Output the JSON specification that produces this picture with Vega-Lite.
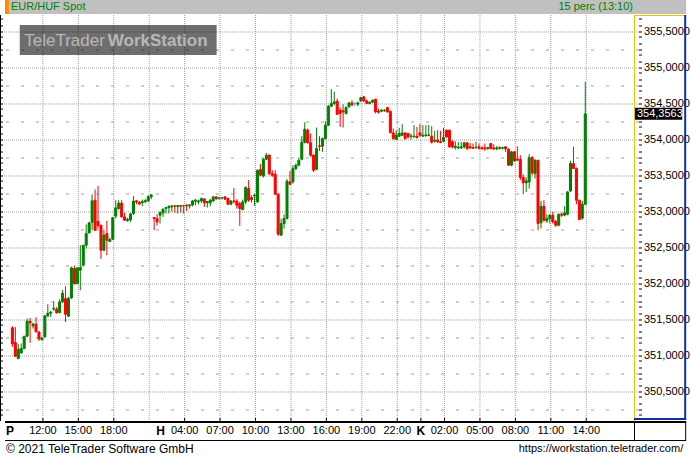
{
  "$schema": "https://vega.github.io/schema/vega-lite/v6.json",
  "width": 639,
  "height": 406,
  "autosize": {"type": "none"},
  "padding": {"left": 0, "top": 15, "right": 53, "bottom": 37},
  "background": "white",
  "config": {"view": {"stroke": null}, "font": "Liberation Sans"},
  "resolve": {"axis": {"y": "independent"}},
  "datasets": {
    "times": [
      {"i": -0.8333, "lab": "P", "kind": "day"},
      {"i": 10.3333, "lab": "12:00", "kind": "time"},
      {"i": 22.3333, "lab": "15:00", "kind": "time"},
      {"i": 34.3333, "lab": "18:00", "kind": "time"},
      {"i": 46.3333, "lab": "", "kind": "grid"},
      {"i": 50.1667, "lab": "H", "kind": "day"},
      {"i": 58.3333, "lab": "04:00", "kind": "time"},
      {"i": 70.3333, "lab": "07:00", "kind": "time"},
      {"i": 82.3333, "lab": "10:00", "kind": "time"},
      {"i": 94.3333, "lab": "13:00", "kind": "time"},
      {"i": 106.3333, "lab": "16:00", "kind": "time"},
      {"i": 118.3333, "lab": "19:00", "kind": "time"},
      {"i": 130.3333, "lab": "22:00", "kind": "time"},
      {"i": 138.3333, "lab": "K", "kind": "daygrid"},
      {"i": 146.3333, "lab": "02:00", "kind": "time"},
      {"i": 158.3333, "lab": "05:00", "kind": "time"},
      {"i": 170.3333, "lab": "08:00", "kind": "time"},
      {"i": 182.3333, "lab": "11:00", "kind": "time"},
      {"i": 194.3333, "lab": "14:00", "kind": "time"}
    ],
    "candles": [
      {"i":0,"o":351.384,"h":351.407,"l":351.120,"c":351.161,"d":"down"},
      {"i":1,"o":351.180,"h":351.397,"l":350.981,"c":350.990,"d":"down"},
      {"i":2,"o":350.958,"h":351.157,"l":350.948,"c":351.087,"d":"up"},
      {"i":3,"o":351.036,"h":351.166,"l":351.030,"c":351.097,"d":"up"},
      {"i":4,"o":351.097,"h":351.270,"l":351.087,"c":351.268,"d":"up"},
      {"i":5,"o":351.268,"h":351.513,"l":351.259,"c":351.476,"d":"up"},
      {"i":6,"o":351.476,"h":351.522,"l":351.175,"c":351.453,"d":"down"},
      {"i":7,"o":351.411,"h":351.453,"l":351.374,"c":351.439,"d":"up"},
      {"i":8,"o":351.435,"h":351.532,"l":351.325,"c":351.328,"d":"down"},
      {"i":9,"o":351.328,"h":351.330,"l":351.203,"c":351.231,"d":"down"},
      {"i":10,"o":351.217,"h":351.259,"l":351.212,"c":351.245,"d":"up"},
      {"i":11,"o":351.259,"h":351.559,"l":351.249,"c":351.550,"d":"up"},
      {"i":12,"o":351.550,"h":351.712,"l":351.536,"c":351.587,"d":"up"},
      {"i":13,"o":351.587,"h":351.620,"l":351.536,"c":351.601,"d":"up"},
      {"i":14,"o":351.645,"h":351.754,"l":351.620,"c":351.655,"d":"up"},
      {"i":15,"o":351.643,"h":351.675,"l":351.583,"c":351.592,"d":"down"},
      {"i":16,"o":351.597,"h":351.782,"l":351.583,"c":351.745,"d":"up"},
      {"i":17,"o":351.745,"h":351.911,"l":351.731,"c":351.865,"d":"up"},
      {"i":18,"o":351.791,"h":351.962,"l":351.467,"c":351.573,"d":"down"},
      {"i":19,"o":351.546,"h":351.814,"l":351.536,"c":351.791,"d":"up"},
      {"i":20,"o":351.800,"h":352.235,"l":351.786,"c":352.217,"d":"up"},
      {"i":21,"o":352.208,"h":352.249,"l":351.990,"c":351.995,"d":"down"},
      {"i":22,"o":352.000,"h":352.222,"l":351.990,"c":352.217,"d":"up"},
      {"i":23,"o":352.185,"h":352.532,"l":351.907,"c":352.222,"d":"up"},
      {"i":24,"o":352.254,"h":352.532,"l":352.245,"c":352.532,"d":"up"},
      {"i":25,"o":352.532,"h":352.819,"l":352.486,"c":352.694,"d":"up"},
      {"i":26,"o":352.703,"h":352.856,"l":352.694,"c":352.842,"d":"up"},
      {"i":27,"o":352.851,"h":353.240,"l":352.740,"c":353.148,"d":"up"},
      {"i":28,"o":353.157,"h":353.305,"l":352.735,"c":352.740,"d":"down"},
      {"i":29,"o":352.861,"h":353.356,"l":352.763,"c":352.805,"d":"down"},
      {"i":30,"o":352.810,"h":352.815,"l":352.342,"c":352.462,"d":"down"},
      {"i":31,"o":352.462,"h":352.749,"l":352.448,"c":352.671,"d":"up"},
      {"i":32,"o":352.694,"h":352.870,"l":352.393,"c":352.601,"d":"down"},
      {"i":33,"o":352.583,"h":352.638,"l":352.578,"c":352.611,"d":"up"},
      {"i":34,"o":352.615,"h":352.925,"l":352.601,"c":352.916,"d":"up"},
      {"i":35,"o":352.935,"h":353.157,"l":352.902,"c":353.050,"d":"up"},
      {"i":36,"o":353.041,"h":353.157,"l":353.027,"c":353.115,"d":"up"},
      {"i":37,"o":353.115,"h":353.157,"l":352.916,"c":352.925,"d":"down"},
      {"i":38,"o":352.925,"h":352.981,"l":352.870,"c":352.879,"d":"down"},
      {"i":39,"o":352.874,"h":352.912,"l":352.856,"c":352.893,"d":"up"},
      {"i":40,"o":352.884,"h":352.976,"l":352.856,"c":352.967,"d":"up"},
      {"i":41,"o":352.972,"h":353.213,"l":352.953,"c":353.143,"d":"up"},
      {"i":42,"o":353.148,"h":353.161,"l":353.101,"c":353.134,"d":"down"},
      {"i":43,"o":353.129,"h":353.143,"l":353.087,"c":353.106,"d":"down"},
      {"i":44,"o":353.125,"h":353.166,"l":353.073,"c":353.138,"d":"up"},
      {"i":45,"o":353.134,"h":353.171,"l":353.120,"c":353.152,"d":"up"},
      {"i":46,"o":353.148,"h":353.226,"l":353.134,"c":353.203,"d":"up"},
      {"i":47,"o":353.203,"h":353.240,"l":353.171,"c":353.231,"d":"up"},
      {"i":48,"o":352.916,"h":352.925,"l":352.740,"c":352.902,"d":"down"},
      {"i":49,"o":352.902,"h":352.962,"l":352.805,"c":352.856,"d":"down"},
      {"i":50,"o":352.948,"h":353.004,"l":352.833,"c":352.985,"d":"up"},
      {"i":51,"o":352.981,"h":353.041,"l":352.925,"c":353.032,"d":"up"},
      {"i":52,"o":353.041,"h":353.064,"l":352.972,"c":353.055,"d":"up"},
      {"i":53,"o":353.055,"h":353.083,"l":352.972,"c":353.073,"d":"up"},
      {"i":54,"o":353.064,"h":353.092,"l":352.995,"c":353.078,"d":"up"},
      {"i":55,"o":353.078,"h":353.092,"l":352.981,"c":353.073,"d":"down"},
      {"i":56,"o":353.069,"h":353.092,"l":352.972,"c":353.083,"d":"up"},
      {"i":57,"o":353.083,"h":353.092,"l":352.985,"c":353.073,"d":"down"},
      {"i":58,"o":353.078,"h":353.092,"l":352.972,"c":353.083,"d":"up"},
      {"i":59,"o":353.087,"h":353.101,"l":353.009,"c":353.078,"d":"down"},
      {"i":60,"o":353.078,"h":353.101,"l":353.041,"c":353.092,"d":"up"},
      {"i":61,"o":353.092,"h":353.157,"l":353.073,"c":353.147,"d":"up"},
      {"i":62,"o":353.143,"h":353.175,"l":353.087,"c":353.157,"d":"up"},
      {"i":63,"o":353.134,"h":353.166,"l":353.101,"c":353.147,"d":"up"},
      {"i":64,"o":353.147,"h":353.194,"l":353.120,"c":353.180,"d":"up"},
      {"i":65,"o":353.175,"h":353.180,"l":353.064,"c":353.120,"d":"down"},
      {"i":66,"o":353.120,"h":353.147,"l":353.055,"c":353.138,"d":"up"},
      {"i":67,"o":353.120,"h":353.175,"l":353.073,"c":353.157,"d":"up"},
      {"i":68,"o":353.147,"h":353.212,"l":353.134,"c":353.203,"d":"up"},
      {"i":69,"o":353.203,"h":353.212,"l":353.157,"c":353.180,"d":"down"},
      {"i":70,"o":353.180,"h":353.203,"l":353.166,"c":353.189,"d":"up"},
      {"i":71,"o":353.189,"h":353.198,"l":353.166,"c":353.194,"d":"up"},
      {"i":72,"o":353.203,"h":353.212,"l":353.166,"c":353.171,"d":"down"},
      {"i":73,"o":353.180,"h":353.194,"l":353.087,"c":353.101,"d":"down"},
      {"i":74,"o":353.101,"h":353.157,"l":353.087,"c":353.147,"d":"up"},
      {"i":75,"o":353.147,"h":353.328,"l":353.110,"c":353.138,"d":"down"},
      {"i":76,"o":353.143,"h":353.171,"l":353.041,"c":353.087,"d":"down"},
      {"i":77,"o":353.110,"h":353.134,"l":352.800,"c":353.041,"d":"down"},
      {"i":78,"o":353.027,"h":353.166,"l":353.018,"c":353.134,"d":"up"},
      {"i":79,"o":353.134,"h":353.351,"l":353.101,"c":353.333,"d":"up"},
      {"i":80,"o":353.319,"h":353.435,"l":353.134,"c":353.157,"d":"down"},
      {"i":81,"o":353.194,"h":353.226,"l":353.124,"c":353.166,"d":"down"},
      {"i":82,"o":353.217,"h":353.249,"l":353.078,"c":353.226,"d":"up"},
      {"i":83,"o":353.134,"h":353.583,"l":353.120,"c":353.573,"d":"up"},
      {"i":84,"o":353.583,"h":353.657,"l":353.490,"c":353.504,"d":"down"},
      {"i":85,"o":353.495,"h":353.736,"l":353.472,"c":353.726,"d":"up"},
      {"i":86,"o":353.726,"h":353.814,"l":353.712,"c":353.782,"d":"up"},
      {"i":87,"o":353.782,"h":353.796,"l":353.504,"c":353.527,"d":"down"},
      {"i":88,"o":353.527,"h":353.573,"l":353.481,"c":353.504,"d":"down"},
      {"i":89,"o":353.518,"h":353.573,"l":353.226,"c":353.240,"d":"down"},
      {"i":90,"o":353.240,"h":353.249,"l":352.661,"c":352.685,"d":"down"},
      {"i":91,"o":352.671,"h":352.902,"l":352.666,"c":352.833,"d":"up"},
      {"i":92,"o":352.833,"h":352.958,"l":352.763,"c":352.902,"d":"up"},
      {"i":93,"o":352.902,"h":353.448,"l":352.888,"c":353.421,"d":"up"},
      {"i":94,"o":353.411,"h":353.564,"l":353.365,"c":353.379,"d":"down"},
      {"i":95,"o":353.411,"h":353.643,"l":353.388,"c":353.597,"d":"up"},
      {"i":96,"o":353.597,"h":353.666,"l":353.573,"c":353.643,"d":"up"},
      {"i":97,"o":353.643,"h":353.749,"l":353.629,"c":353.712,"d":"up"},
      {"i":98,"o":353.726,"h":354.046,"l":353.712,"c":353.962,"d":"up"},
      {"i":99,"o":353.962,"h":354.240,"l":353.944,"c":354.143,"d":"up"},
      {"i":100,"o":354.129,"h":354.152,"l":353.944,"c":353.953,"d":"down"},
      {"i":101,"o":353.953,"h":354.083,"l":353.759,"c":353.782,"d":"down"},
      {"i":102,"o":353.782,"h":353.796,"l":353.550,"c":353.573,"d":"down"},
      {"i":103,"o":353.587,"h":354.166,"l":353.573,"c":353.874,"d":"up"},
      {"i":104,"o":353.912,"h":354.046,"l":353.842,"c":353.903,"d":"down"},
      {"i":105,"o":353.907,"h":354.027,"l":353.828,"c":354.013,"d":"up"},
      {"i":106,"o":354.013,"h":354.254,"l":353.999,"c":354.199,"d":"up"},
      {"i":107,"o":354.199,"h":354.476,"l":354.185,"c":354.462,"d":"up"},
      {"i":108,"o":354.462,"h":354.699,"l":354.453,"c":354.500,"d":"up"},
      {"i":109,"o":354.500,"h":354.662,"l":354.476,"c":354.523,"d":"up"},
      {"i":110,"o":354.532,"h":354.569,"l":354.337,"c":354.351,"d":"down"},
      {"i":111,"o":354.407,"h":354.444,"l":354.175,"c":354.361,"d":"down"},
      {"i":112,"o":354.398,"h":354.490,"l":354.166,"c":354.384,"d":"down"},
      {"i":113,"o":354.361,"h":354.462,"l":354.347,"c":354.444,"d":"up"},
      {"i":114,"o":354.453,"h":354.518,"l":354.444,"c":354.509,"d":"up"},
      {"i":115,"o":354.509,"h":354.546,"l":354.462,"c":354.481,"d":"down"},
      {"i":116,"o":354.500,"h":354.523,"l":354.462,"c":354.500,"d":"flat"},
      {"i":117,"o":354.490,"h":354.527,"l":354.462,"c":354.509,"d":"up"},
      {"i":118,"o":354.537,"h":354.592,"l":354.523,"c":354.583,"d":"up"},
      {"i":119,"o":354.592,"h":354.606,"l":354.518,"c":354.537,"d":"down"},
      {"i":120,"o":354.537,"h":354.555,"l":354.490,"c":354.500,"d":"down"},
      {"i":121,"o":354.500,"h":354.527,"l":354.490,"c":354.518,"d":"up"},
      {"i":122,"o":354.518,"h":354.555,"l":354.509,"c":354.546,"d":"up"},
      {"i":123,"o":354.560,"h":354.565,"l":354.361,"c":354.384,"d":"down"},
      {"i":124,"o":354.393,"h":354.430,"l":354.361,"c":354.379,"d":"down"},
      {"i":125,"o":354.393,"h":354.421,"l":354.379,"c":354.407,"d":"up"},
      {"i":126,"o":354.398,"h":354.421,"l":354.384,"c":354.407,"d":"up"},
      {"i":127,"o":354.444,"h":354.453,"l":354.370,"c":354.384,"d":"down"},
      {"i":128,"o":354.393,"h":354.398,"l":354.083,"c":354.097,"d":"down"},
      {"i":129,"o":354.092,"h":354.152,"l":353.999,"c":354.013,"d":"down"},
      {"i":130,"o":353.999,"h":354.129,"l":353.994,"c":354.060,"d":"up"},
      {"i":131,"o":354.046,"h":354.162,"l":354.036,"c":354.083,"d":"up"},
      {"i":132,"o":354.060,"h":354.212,"l":354.046,"c":354.092,"d":"up"},
      {"i":133,"o":354.092,"h":354.097,"l":353.999,"c":354.013,"d":"down"},
      {"i":134,"o":354.083,"h":354.092,"l":354.013,"c":354.036,"d":"down"},
      {"i":135,"o":354.041,"h":354.083,"l":353.999,"c":354.050,"d":"up"},
      {"i":136,"o":354.036,"h":354.199,"l":354.027,"c":354.046,"d":"up"},
      {"i":137,"o":354.046,"h":354.175,"l":354.013,"c":354.027,"d":"down"},
      {"i":138,"o":354.092,"h":354.212,"l":354.036,"c":354.060,"d":"down"},
      {"i":139,"o":354.046,"h":354.199,"l":354.036,"c":354.060,"d":"up"},
      {"i":140,"o":354.055,"h":354.199,"l":354.036,"c":354.064,"d":"up"},
      {"i":141,"o":354.055,"h":354.199,"l":354.046,"c":354.064,"d":"up"},
      {"i":142,"o":354.046,"h":354.185,"l":353.944,"c":353.962,"d":"down"},
      {"i":143,"o":353.976,"h":354.120,"l":353.958,"c":353.990,"d":"up"},
      {"i":144,"o":353.990,"h":354.129,"l":353.953,"c":353.967,"d":"down"},
      {"i":145,"o":353.967,"h":354.120,"l":353.949,"c":353.958,"d":"down"},
      {"i":146,"o":353.976,"h":354.162,"l":353.962,"c":354.027,"d":"up"},
      {"i":147,"o":354.129,"h":354.138,"l":354.027,"c":354.036,"d":"down"},
      {"i":148,"o":354.129,"h":354.138,"l":353.888,"c":353.898,"d":"down"},
      {"i":149,"o":353.967,"h":353.990,"l":353.874,"c":353.898,"d":"down"},
      {"i":150,"o":353.888,"h":353.976,"l":353.861,"c":353.907,"d":"up"},
      {"i":151,"o":353.884,"h":353.967,"l":353.865,"c":353.893,"d":"up"},
      {"i":152,"o":353.884,"h":353.967,"l":353.870,"c":353.898,"d":"up"},
      {"i":153,"o":353.898,"h":353.967,"l":353.874,"c":353.953,"d":"up"},
      {"i":154,"o":353.953,"h":353.967,"l":353.851,"c":353.874,"d":"down"},
      {"i":155,"o":353.898,"h":353.953,"l":353.870,"c":353.884,"d":"down"},
      {"i":156,"o":353.888,"h":353.944,"l":353.870,"c":353.879,"d":"down"},
      {"i":157,"o":353.884,"h":353.967,"l":353.874,"c":353.893,"d":"up"},
      {"i":158,"o":353.898,"h":353.944,"l":353.861,"c":353.879,"d":"down"},
      {"i":159,"o":353.884,"h":353.907,"l":353.861,"c":353.870,"d":"down"},
      {"i":160,"o":353.884,"h":353.944,"l":353.842,"c":353.870,"d":"down"},
      {"i":161,"o":353.874,"h":353.898,"l":353.856,"c":353.888,"d":"up"},
      {"i":162,"o":353.944,"h":353.953,"l":353.861,"c":353.874,"d":"down"},
      {"i":163,"o":353.884,"h":353.935,"l":353.851,"c":353.870,"d":"down"},
      {"i":164,"o":353.870,"h":353.907,"l":353.851,"c":353.884,"d":"up"},
      {"i":165,"o":353.874,"h":353.907,"l":353.861,"c":353.888,"d":"up"},
      {"i":166,"o":353.879,"h":353.898,"l":353.861,"c":353.888,"d":"up"},
      {"i":167,"o":353.898,"h":353.907,"l":353.828,"c":353.870,"d":"down"},
      {"i":168,"o":353.865,"h":353.874,"l":353.638,"c":353.643,"d":"down"},
      {"i":169,"o":353.643,"h":353.842,"l":353.629,"c":353.828,"d":"up"},
      {"i":170,"o":353.828,"h":353.842,"l":353.689,"c":353.703,"d":"down"},
      {"i":171,"o":353.726,"h":353.907,"l":353.708,"c":353.712,"d":"down"},
      {"i":172,"o":353.726,"h":353.782,"l":353.435,"c":353.472,"d":"down"},
      {"i":173,"o":353.472,"h":353.513,"l":353.240,"c":353.398,"d":"down"},
      {"i":174,"o":353.398,"h":353.472,"l":353.272,"c":353.425,"d":"up"},
      {"i":175,"o":353.411,"h":353.796,"l":353.319,"c":353.749,"d":"up"},
      {"i":176,"o":353.749,"h":353.768,"l":353.504,"c":353.536,"d":"down"},
      {"i":177,"o":353.527,"h":353.726,"l":353.458,"c":353.712,"d":"up"},
      {"i":178,"o":353.712,"h":353.717,"l":352.740,"c":352.833,"d":"down"},
      {"i":179,"o":352.842,"h":353.147,"l":352.763,"c":353.073,"d":"up"},
      {"i":180,"o":353.073,"h":353.157,"l":352.856,"c":352.879,"d":"down"},
      {"i":181,"o":352.870,"h":352.962,"l":352.842,"c":352.902,"d":"up"},
      {"i":182,"o":352.902,"h":352.962,"l":352.833,"c":352.948,"d":"up"},
      {"i":183,"o":352.948,"h":352.995,"l":352.833,"c":352.856,"d":"down"},
      {"i":184,"o":352.865,"h":352.879,"l":352.786,"c":352.809,"d":"down"},
      {"i":185,"o":352.809,"h":352.972,"l":352.796,"c":352.962,"d":"up"},
      {"i":186,"o":352.962,"h":352.985,"l":352.925,"c":352.948,"d":"down"},
      {"i":187,"o":352.948,"h":353.073,"l":352.935,"c":352.981,"d":"up"},
      {"i":188,"o":352.962,"h":353.282,"l":352.948,"c":353.272,"d":"up"},
      {"i":189,"o":353.286,"h":353.703,"l":353.272,"c":353.666,"d":"up"},
      {"i":190,"o":353.666,"h":353.898,"l":353.592,"c":353.597,"d":"down"},
      {"i":191,"o":353.597,"h":353.611,"l":353.101,"c":353.157,"d":"down"},
      {"i":192,"o":353.157,"h":353.162,"l":352.879,"c":352.888,"d":"down"},
      {"i":193,"o":352.907,"h":353.147,"l":352.888,"c":353.101,"d":"up"},
      {"i":194,"o":353.101,"h":354.800,"l":353.087,"c":354.3563,"d":"up"}
    ]
  },
  "layer": [
    {
      "data": {"values": [{"k": "header"}]},
      "mark": {"type": "rect", "color": "#C0C0C0"},
      "encoding": {
        "x": {"datum": -2.5, "type": "quantitative", "axis": null},
        "x2": {"datum": 228.1667},
        "y": {"datum": 355.9375, "type": "quantitative", "axis": null},
        "y2": {"datum": 355.74306}
      }
    },
    {
      "data": {"values": [{"k": "marker"}]},
      "mark": {"type": "rect", "color": "#FF8C00"},
      "encoding": {
        "x": {"datum": -2.5, "type": "quantitative", "axis": null},
        "x2": {"datum": -1.1667},
        "y": {"datum": 355.9375, "type": "quantitative", "axis": null},
        "y2": {"datum": 355.74306}
      }
    },
    {
      "data": {"values": [{"t": "EUR/HUF Spot"}]},
      "mark": {"type": "text", "align": "left", "baseline": "middle", "fontSize": 11, "color": "#008000", "font": "Liberation Sans"},
      "encoding": {
        "x": {"datum": -0.5, "type": "quantitative", "axis": null},
        "y": {"datum": 355.84028, "type": "quantitative", "axis": null},
        "text": {"field": "t"}
      }
    },
    {
      "data": {"values": [{"t": "15 perc (13:10)"}]},
      "mark": {"type": "text", "align": "right", "baseline": "middle", "fontSize": 11, "color": "#008000", "font": "Liberation Sans"},
      "encoding": {
        "x": {"datum": 210.1667, "type": "quantitative", "axis": null},
        "y": {"datum": 355.84028, "type": "quantitative", "axis": null},
        "text": {"field": "t"}
      }
    },
    {
      "data": {"name": "times"},
      "transform": [{"filter": "datum.kind != 'day'"}],
      "mark": {"type": "rule", "color": "#A0A0A0", "strokeWidth": 1, "strokeDash": [1, 1]},
      "encoding": {
        "x": {"field": "i", "type": "quantitative", "axis": null},
        "y": {"datum": 355.72917, "type": "quantitative", "axis": null},
        "y2": {"datum": 350.09028}
      }
    },
    {
      "data": {"name": "times"},
      "transform": [{"filter": "datum.kind == 'time' || datum.kind == 'daygrid'"}],
      "mark": {"type": "rule", "color": "#000000", "strokeWidth": 1},
      "encoding": {
        "x": {"field": "i", "type": "quantitative", "axis": null},
        "y": {"datum": 350.13194, "type": "quantitative", "axis": null},
        "y2": {"datum": 350.09028}
      }
    },
    {
      "data": {"name": "times"},
      "transform": [{"filter": "datum.kind == 'time'"}],
      "mark": {"type": "text", "align": "center", "baseline": "middle", "fontSize": 11, "color": "#000000", "font": "Liberation Sans"},
      "encoding": {
        "x": {"field": "i", "type": "quantitative", "axis": null},
        "y": {"datum": 349.95139, "type": "quantitative", "axis": null},
        "text": {"field": "lab"}
      }
    },
    {
      "data": {"name": "times"},
      "transform": [{"filter": "datum.kind == 'day' || datum.kind == 'daygrid'"}],
      "mark": {"type": "text", "align": "center", "baseline": "middle", "fontSize": 12, "fontWeight": "bold", "color": "#000000", "font": "Liberation Sans"},
      "encoding": {
        "x": {"field": "i", "type": "quantitative", "axis": null},
        "y": {"datum": 349.95139, "type": "quantitative", "axis": null},
        "text": {"field": "lab"}
      }
    },
    {
      "data": {"values": [{"k": "watermark"}]},
      "mark": {"type": "rect", "color": "#000000", "opacity": 0.57},
      "encoding": {
        "x": {"datum": 2.5, "type": "quantitative", "axis": null},
        "x2": {"datum": 69.1667},
        "y": {"datum": 355.59028, "type": "quantitative", "axis": null},
        "y2": {"datum": 355.17361}
      }
    },
    {
      "data": {"values": [{"t": "TeleTrader"}]},
      "mark": {"type": "text", "align": "left", "baseline": "alphabetic", "fontSize": 17, "color": "#B8B8B8", "font": "Liberation Sans"},
      "encoding": {
        "x": {"datum": 4.0, "type": "quantitative", "axis": null},
        "y": {"datum": 355.29861, "type": "quantitative", "axis": null},
        "text": {"field": "t"}
      }
    },
    {
      "data": {"values": [{"t": "WorkStation"}]},
      "mark": {"type": "text", "align": "left", "baseline": "alphabetic", "fontSize": 17, "fontWeight": "bold", "color": "#B8B8B8", "font": "Liberation Sans"},
      "encoding": {
        "x": {"datum": 32.3, "type": "quantitative", "axis": null},
        "y": {"datum": 355.29861, "type": "quantitative", "axis": null},
        "text": {"field": "t"}
      }
    },
    {
      "data": {"name": "candles"},
      "mark": {"type": "rule", "strokeWidth": 1},
      "encoding": {
        "x": {
          "field": "i", "type": "quantitative",
          "scale": {"domain": [-2.5, 210.5], "nice": false, "zero": false},
          "axis": null
        },
        "y": {
          "field": "l", "type": "quantitative",
          "scale": {"domain": [350.09028, 355.72917], "nice": false, "zero": false},
          "axis": {
            "orient": "left", "title": null, "labels": false, "translate": 0,
            "values": [350.1667,350.25,350.3333,350.4167,350.5,350.5833,350.6667,350.75,350.8333,350.9167,351,351.0833,351.1667,351.25,351.3333,351.4167,351.5,351.5833,351.6667,351.75,351.8333,351.9167,352,352.0833,352.1667,352.25,352.3333,352.4167,352.5,352.5833,352.6667,352.75,352.8333,352.9167,353,353.0833,353.1667,353.25,353.3333,353.4167,353.5,353.5833,353.6667,353.75,353.8333,353.9167,354,354.0833,354.1667,354.25,354.3333,354.4167,354.5,354.5833,354.6667,354.75,354.8333,354.9167,355,355.0833,355.1667,355.25,355.3333,355.4167,355.5,355.5833,355.6667],
            "domain": true, "domainColor": "#000000", "domainWidth": 2,
            "ticks": true, "tickSize": -3, "tickColor": "#000000",
            "grid": true, "gridColor": "#A0A0A0", "gridWidth": 1, "gridDash": [1, 1],
            "gridOpacity": {"condition": {"test": "abs(datum.value*2 - round(datum.value*2)) < 0.01", "value": 1}, "value": 0}
          }
        },
        "y2": {"field": "h"},
        "color": {"field": "d", "type": "nominal", "scale": {"domain": ["up", "down", "flat"], "range": ["#008000", "#FF0000", "#00CCCC"]}, "legend": null}
      }
    },
    {
      "data": {"name": "candles"},
      "mark": {"type": "bar", "width": 2, "strokeWidth": 1},
      "encoding": {
        "x": {"field": "i", "type": "quantitative", "axis": null},
        "y": {
          "field": "o", "type": "quantitative",
          "axis": {
            "orient": "right", "title": null, "translate": 0,
            "values": [350.1667,350.25,350.3333,350.4167,350.5,350.5833,350.6667,350.75,350.8333,350.9167,351,351.0833,351.1667,351.25,351.3333,351.4167,351.5,351.5833,351.6667,351.75,351.8333,351.9167,352,352.0833,352.1667,352.25,352.3333,352.4167,352.5,352.5833,352.6667,352.75,352.8333,352.9167,353,353.0833,353.1667,353.25,353.3333,353.4167,353.5,353.5833,353.6667,353.75,353.8333,353.9167,354,354.0833,354.1667,354.25,354.3333,354.4167,354.5,354.5833,354.6667,354.75,354.8333,354.9167,355,355.0833,355.1667,355.25,355.3333,355.4167,355.5,355.5833,355.6667],
            "domain": false,
            "grid": true, "gridColor": "#A0A0A0", "gridWidth": 1, "gridDash": [3, 12],
            "gridOpacity": {"condition": {"test": "abs(datum.value*4 - round(datum.value*4)) < 0.01 && abs(datum.value*2 - round(datum.value*2)) > 0.1", "value": 1}, "value": 0},
            "ticks": true, "tickSize": 3, "tickColor": "#000000",
            "labelExpr": "abs(datum.value*2 - round(datum.value*2)) < 0.01 ? replace(format(datum.value, '.4f'), '.', ',') : ''",
            "labelFont": "Liberation Sans", "labelFontSize": 11, "labelColor": "#000000",
            "labelPadding": 2, "labelOverlap": false, "labelBound": false, "labelFlush": false
          }
        },
        "y2": {"field": "c"},
        "color": {"field": "d", "type": "nominal", "scale": {"domain": ["up", "down", "flat"], "range": ["#008000", "#FF0000", "#00CCCC"]}, "legend": null},
        "stroke": {"field": "d", "type": "nominal", "scale": {"domain": ["up", "down", "flat"], "range": ["#008000", "#FF0000", "#00CCCC"]}, "legend": null}
      }
    },
    {
      "data": {"values": [{"k": "yellow-left"}]},
      "mark": {"type": "rule", "color": "#F2C200", "strokeWidth": 1},
      "encoding": {
        "x": {"datum": 210.6667, "type": "quantitative", "axis": null},
        "y": {"datum": 355.72917, "type": "quantitative", "axis": null},
        "y2": {"datum": 350.09028}
      }
    },
    {
      "data": {"values": [{"k": "yellow-top"}]},
      "mark": {"type": "rule", "color": "#F2C200", "strokeWidth": 1},
      "encoding": {
        "x": {"datum": 210.5, "type": "quantitative", "axis": null},
        "x2": {"datum": 228.1667},
        "y": {"datum": 355.72222, "type": "quantitative", "axis": null}
      }
    },
    {
      "data": {"values": [{"k": "blue-right"}]},
      "mark": {"type": "rule", "color": "#1030A0", "strokeWidth": 2},
      "encoding": {
        "x": {"datum": 227.8333, "type": "quantitative", "axis": null},
        "y": {"datum": 355.72917, "type": "quantitative", "axis": null},
        "y2": {"datum": 350.10417}
      }
    },
    {
      "data": {"values": [{"k": "blue-bottom"}]},
      "mark": {"type": "rule", "color": "#1030A0", "strokeWidth": 2},
      "encoding": {
        "x": {"datum": 210.5, "type": "quantitative", "axis": null},
        "x2": {"datum": 228.1667},
        "y": {"datum": 350.11806, "type": "quantitative", "axis": null}
      }
    },
    {
      "data": {"values": [{"k": "axis-line"}]},
      "mark": {"type": "rule", "color": "#000000", "strokeWidth": 2},
      "encoding": {
        "x": {"datum": -2.5, "type": "quantitative", "axis": null},
        "x2": {"datum": 228.1667},
        "y": {"datum": 350.07639, "type": "quantitative", "axis": null}
      }
    },
    {
      "data": {"values": [{"k": "footer-line"}]},
      "mark": {"type": "rule", "color": "#000000", "strokeWidth": 1},
      "encoding": {
        "x": {"datum": -2.5, "type": "quantitative", "axis": null},
        "x2": {"datum": 228.1667},
        "y": {"datum": 349.81944, "type": "quantitative", "axis": null}
      }
    },
    {
      "data": {"values": [{"k": "box-left"}]},
      "mark": {"type": "rule", "color": "#000000", "strokeWidth": 1},
      "encoding": {
        "x": {"datum": 210.6667, "type": "quantitative", "axis": null},
        "y": {"datum": 350.07639, "type": "quantitative", "axis": null},
        "y2": {"datum": 349.81944}
      }
    },
    {
      "data": {"values": [{"k": "box-right"}]},
      "mark": {"type": "rule", "color": "#000000", "strokeWidth": 1},
      "encoding": {
        "x": {"datum": 228.0, "type": "quantitative", "axis": null},
        "y": {"datum": 350.07639, "type": "quantitative", "axis": null},
        "y2": {"datum": 349.81944}
      }
    },
    {
      "data": {"values": [{"t": "© 2021 TeleTrader Software GmbH"}]},
      "mark": {"type": "text", "align": "left", "baseline": "middle", "fontSize": 12, "color": "#000000", "font": "Liberation Sans"},
      "encoding": {
        "x": {"datum": -2.1667, "type": "quantitative", "axis": null},
        "y": {"datum": 349.70139, "type": "quantitative", "axis": null},
        "text": {"field": "t"}
      }
    },
    {
      "data": {"values": [{"t": "https://workstation.teletrader.com/"}]},
      "mark": {"type": "text", "align": "right", "baseline": "middle", "fontSize": 11, "color": "#000000", "font": "Liberation Sans"},
      "encoding": {
        "x": {"datum": 227.1667, "type": "quantitative", "axis": null},
        "y": {"datum": 349.70139, "type": "quantitative", "axis": null},
        "text": {"field": "t"}
      }
    },
    {
      "data": {"values": [{"k": "price-box"}]},
      "mark": {"type": "rect", "color": "#000000"},
      "encoding": {
        "x": {"datum": 210.8333, "type": "quantitative", "axis": null},
        "x2": {"datum": 226.8333},
        "y": {"datum": 354.4396, "type": "quantitative", "axis": null},
        "y2": {"datum": 354.2730}
      }
    },
    {
      "data": {"values": [{"t": "354,3563", "p": 354.3563}]},
      "mark": {"type": "text", "align": "left", "baseline": "middle", "fontSize": 11, "color": "#FFFFFF", "font": "Liberation Sans"},
      "encoding": {
        "x": {"datum": 211.5, "type": "quantitative", "axis": null},
        "y": {"field": "p", "type": "quantitative", "axis": null},
        "text": {"field": "t"}
      }
    }
  ]
}
